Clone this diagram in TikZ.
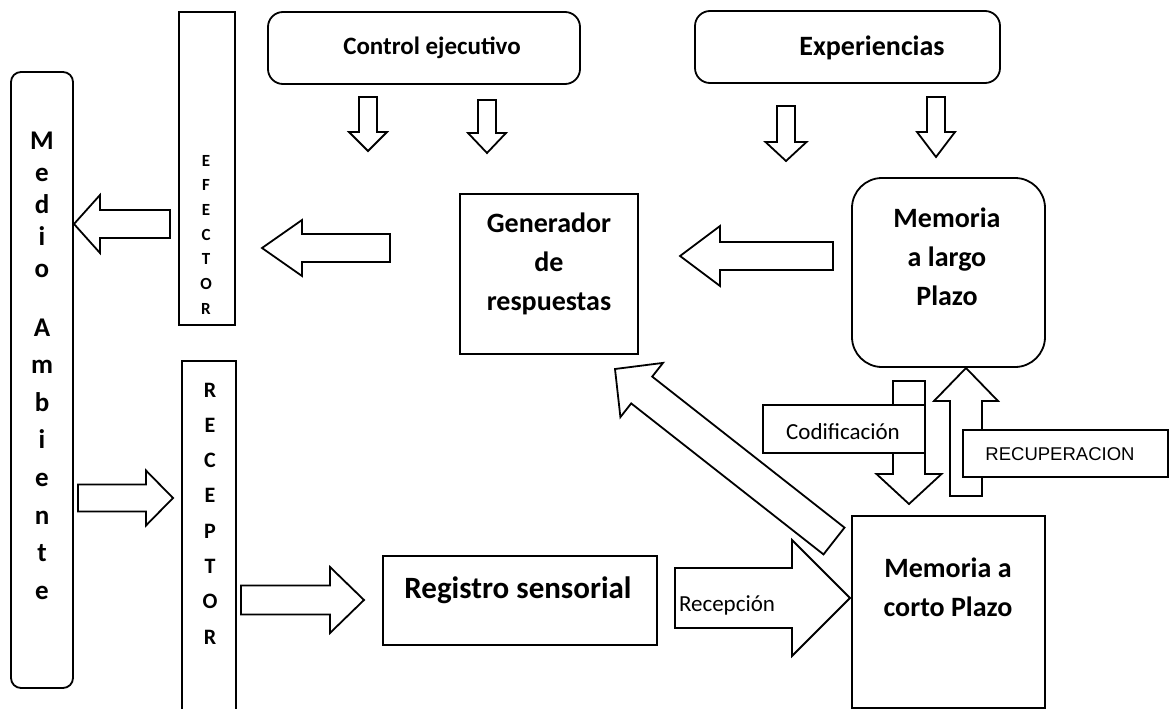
\documentclass[tikz,border=0pt]{standalone}
\usepackage{fontspec}
\setmainfont{Carlito}
\newfontfamily\arialfont{Liberation Sans}
\newcommand{\harrow}[6]{% tail x, head base x, tip x, centre y, shaft half, head half
  \draw[barrow] (#1,#4-#5) -- (#2,#4-#5) -- (#2,#4-#6) -- (#3,#4) -- (#2,#4+#6) -- (#2,#4+#5) -- (#1,#4+#5) -- cycle;}
\newcommand{\varrow}[6]{% tail y, head base y, tip y, centre x, shaft half, head half
  \draw[barrow] (#4-#5,#1) -- (#4-#5,#2) -- (#4-#6,#2) -- (#4,#3) -- (#4+#6,#2) -- (#4+#5,#2) -- (#4+#5,#1) -- cycle;}
\begin{document}
\begin{tikzpicture}[x=1pt,y=-1pt,
  box/.style={draw, line width=1.8pt, fill=white, inner sep=0pt},
  barrow/.style={draw, line width=1.8pt, fill=white, line join=miter},
  big/.style={font=\fontsize{28}{39}\selectfont\bfseries, align=center, inner sep=0pt},
  top/.style={font=\fontsize{25}{29}\selectfont\bfseries, inner sep=0pt},
  small/.style={font=\fontsize{23}{27}\selectfont, inner sep=0pt},
  vlet/.style={anchor=base, inner sep=0pt}]
\useasboundingbox (0,0) rectangle (1170,709);

% ---- boxes ----
\node[box, rounded corners=10pt, minimum width=62pt, minimum height=616pt] (medio) at (42,380) {};
\node[box, minimum width=56pt, minimum height=313pt] (efector) at (207,168.5) {};
\draw[line width=1.8pt] (182,712) -- (182,361) -- (236,361) -- (236,712);
\coordinate (receptor) at (209,535);
\node[box, rounded corners=15pt, minimum width=312pt, minimum height=72pt] (control) at (424,48) {};
\node[box, rounded corners=15pt, minimum width=305pt, minimum height=72pt] (exper) at (847.5,47) {};
\node[box, minimum width=178pt, minimum height=160pt] (gen) at (549,274) {};
\node[box, rounded corners=30pt, minimum width=193pt, minimum height=189pt] (mlp) at (948.5,272.5) {};
\node[box, minimum width=193pt, minimum height=192pt] (mcp) at (948.5,612) {};
\node[box, minimum width=274pt, minimum height=89pt] (reg) at (520,600.5) {};

% ---- texts ----
\node[top] (tcontrol) at (432,48) {Control ejecutivo};
\node[top, font=\fontsize{28}{32}\selectfont\bfseries] (texper) at (872,48) {Experiencias};
\node[big] (tgen) at (549,264) {Generador\\de\\respuestas};
\node[big] (tmlp) at (947,257) {Memoria\\a largo\\Plazo};
\node[big] (tmcp) at (948,587) {Memoria a\\corto Plazo};
\node[big, font=\fontsize{31}{39}\selectfont\bfseries] (treg) at (518,590) {Registro sensorial};

\foreach \l [count=\i] in {M,e,d,i,o}
  \node[vlet, font=\fontsize{27}{30}\selectfont\bfseries] (med\i) at (42,149+32*\i-32) {\l};
\foreach \l [count=\i] in {A,m,b,i,e,n,t,e}
  \node[vlet, font=\fontsize{27}{30}\selectfont\bfseries] (amb\i) at (42,336+37.6*\i-37.6) {\l};
\foreach \l [count=\i] in {E,F,E,C,T,O,R}
  \node[vlet, font=\fontsize{17}{20}\selectfont\bfseries] (ef\i) at (206,166+24.7*\i-24.7) {\l};
\foreach \l [count=\i] in {R,E,C,E,P,T,O,R}
  \node[vlet, font=\fontsize{22}{26}\selectfont\bfseries] (rc\i) at (210,397+35.3*\i-35.3) {\l};

% ---- block arrows ----
\varrow{97}{132}{151}{368}{9}{19}
\varrow{100}{133}{153}{487}{9}{19}
\varrow{106}{142}{161}{786}{9}{20.5}
\varrow{97}{132}{157}{936}{9}{19}

\harrow{170}{100}{74}{224}{14}{29}
\harrow{78}{146}{173}{498}{13.5}{27.5}
\harrow{390}{302}{262}{248}{14}{28}
\harrow{833}{720}{680}{256}{14}{30}
\harrow{241}{330}{364}{600}{14.5}{33}
\harrow{675}{792}{850}{598}{30}{58}

% diagonal arrow MCP -> Generador
\draw[barrow] (823.5,554.4) -- (631.2,403.4) -- (620.4,417.1) -- (615,369)
  -- (663,362.9) -- (652.2,376.6) -- (844.5,527.6) -- cycle;

% Codificacion (down) and Recuperacion (up)
\varrow{381}{474}{504}{909}{16}{32.5}
\varrow{496}{401}{368}{966}{16}{32}

% label boxes
\node[box, minimum width=162pt, minimum height=48pt] (lcod) at (844,429) {};
\node[small] (tcod) at (843,432) {Codificación};
\node[box, minimum width=205pt, minimum height=47pt] (lrec) at (1065.5,453.5) {};
\node[inner sep=0pt, font=\arialfont\fontsize{18.5}{21}\selectfont] (trec) at (1060,454) {RECUPERACION};
\node[small] (trecep) at (727,605) {Recepción};
\end{tikzpicture}
\end{document}
